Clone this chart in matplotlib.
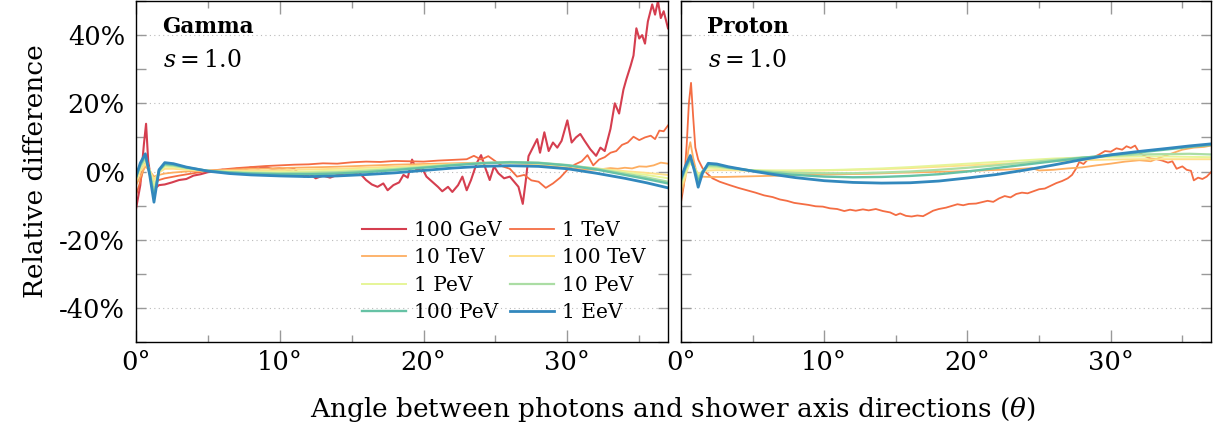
import matplotlib
matplotlib.use("Agg")
import matplotlib.pyplot as plt
from matplotlib.ticker import MultipleLocator, FuncFormatter

plt.rcParams['font.family'] = ['DejaVu Serif']
plt.rcParams['mathtext.fontset'] = 'dejavuserif'

labels = ["100 GeV", "1 TeV", "10 TeV", "100 TeV", "1 PeV", "10 PeV", "100 PeV", "1 EeV"]
colors = ["#d53e4f", "#f46d43", "#fdae61", "#fee08b", "#e6f598", "#abdda4", "#66c2a5", "#3288bd"]

# ---------------- Gamma panel ----------------
g_x_smooth = [0.0, 0.3, 0.65, 0.95, 1.25, 1.6, 2.0, 2.6, 3.5, 5.0, 6.5, 8, 10, 12, 14, 16, 18,
              20, 22, 24, 26, 28, 30, 32, 34, 35.5, 37]
g_1EeV = [-1.5, 2.5, 5.2, -1.0, -9.0, 0.5, 2.6, 2.3, 1.3, 0.1, -0.6, -1.0, -1.3, -1.5, -1.3, -0.9,
          -0.4, 0.3, 1.0, 1.5, 1.7, 1.5, 0.8, -0.5, -2.0, -3.3, -4.8]
g_100PeV = [-1.5, 2.0, 4.6, -0.5, -7.5, 0.3, 2.2, 2.0, 1.2, 0.2, -0.3, -0.6, -0.8, -0.8, -0.6, -0.2,
            0.4, 1.1, 1.8, 2.4, 2.7, 2.5, 1.8, 0.6, -1.0, -2.2, -3.5]
g_10PeV = [-2.0, 1.5, 4.0, 0.0, -6.0, 0.2, 1.9, 1.7, 1.0, 0.2, -0.2, -0.4, -0.5, -0.4, -0.2, 0.2,
           0.7, 1.3, 2.0, 2.5, 2.8, 2.6, 1.9, 0.8, -0.6, -1.7, -3.0]
g_1PeV = [-2.5, 0.8, 3.2, 0.3, -4.0, 0.0, 1.4, 1.3, 0.8, 0.2, 0.0, -0.1, -0.1, 0.0, 0.3, 0.6,
          1.0, 1.5, 2.0, 2.4, 2.6, 2.4, 1.8, 0.9, -0.2, -1.0, -2.0]
g_100TeV = [-3.0, 0.0, 2.2, 0.5, -2.5, -0.3, 0.8, 0.8, 0.5, 0.2, 0.2, 0.3, 0.4, 0.6, 0.8, 1.1,
            1.4, 1.8, 2.1, 2.4, 2.5, 2.2, 1.6, 0.9, 0.1, -0.4, -1.0]

g_x_10TeV = [0.0, 0.3, 0.65, 0.95, 1.25, 1.6, 2.0, 2.6, 3.5, 5.0, 6.5, 8, 10, 12, 14, 16, 18,
             20, 22, 24, 26, 28, 29, 30, 31, 32, 33, 33.5, 34, 34.5, 35, 35.5, 36, 36.5, 37]
g_10TeV = [-4.0, -1.5, 1.5, 0.2, -1.5, -1.0, -0.6, -0.3, 0.0, 0.3, 0.5, 0.8, 1.0, 1.2, 1.4, 1.7,
           2.0, 2.2, 2.4, 2.6, 2.5, 2.0, 1.5, 1.0, 0.6, 0.5, 1.0, 0.8, 1.1, 0.9, 1.5, 1.4, 1.8, 2.6, 2.3]

g_x_1TeV = [0, 0.3, 0.65, 0.95, 1.25, 1.6, 2, 3, 4, 5, 6, 7, 8, 9, 10, 11, 12, 13, 14, 15, 16, 17,
            18, 19, 20, 21, 22, 23, 23.5, 24, 24.5, 25, 25.5, 26, 26.5, 27, 27.5, 28, 28.5, 29,
            29.5, 30, 30.5, 31, 31.4, 31.8, 32.2, 32.6, 33, 33.4, 33.8, 34.2, 34.6, 35, 35.4,
            35.8, 36.1, 36.4, 36.7, 37]
g_1TeV = [-7, -3, 3, 0, -3.5, -2.5, -2, -1.2, -0.5, 0.2, 0.6, 1.0, 1.3, 1.6, 1.8, 2.0, 2.1, 2.4,
          2.3, 2.7, 2.9, 2.8, 3.1, 3.0, 2.9, 3.2, 3.4, 3.6, 4.6, 3.5, 4.5, 3.0, 1.5, 0.8, -1.5,
          -1.0, -2.6, -3.0, -4.8, -3.5, -1.8, 0.5, 2.0, 3.0, 4.8, 1.8, 3.5, 4.2, 5.5, 6.0, 7.8,
          8.5, 10.2, 9.2, 10.0, 10.5, 9.5, 12.0, 11.8, 13.5]

g_x_100GeV = [0, 0.3, 0.55, 0.7, 0.85, 1.1, 1.3, 1.6, 2, 2.5, 3, 3.5, 4, 4.5, 5, 5.5, 6, 6.5, 7,
              7.5, 8, 8.5, 9, 9.5, 10, 10.5, 11, 11.3, 11.7, 12.1, 12.5, 13, 13.5, 14, 14.5, 15,
              15.5, 16, 16.4, 16.8, 17.2, 17.5, 17.9, 18.3, 18.6, 18.9, 19.2, 19.5, 19.9, 20.2,
              20.6, 21, 21.3, 21.7, 22, 22.4, 22.7, 23, 23.3, 23.7, 24.0, 24.3, 24.6, 24.9, 25.2,
              25.6, 26, 26.3, 26.6, 26.9, 27.1, 27.3, 27.6, 27.9, 28.1, 28.4, 28.7, 29.0, 29.3,
              29.6, 30.0, 30.3, 30.6, 30.9, 31.2, 31.6, 32.0, 32.3, 32.6, 33.0, 33.3, 33.6, 33.9,
              34.1, 34.4, 34.6, 34.8, 35.0, 35.2, 35.4, 35.6, 35.9, 36.1, 36.3, 36.5, 36.7, 37.0]
g_100GeV = [-11, -4, 8, 14, 3, -4, -5, -4, -3.8, -3.2, -2.5, -2.2, -1.2, -0.8, -0.2, 0, 0.5, 0.3,
            0.8, 0.6, 1.2, 0.9, 1.3, 0.7, 0.9, 0.4, 0.8, -0.5, -1.5, -0.8, -2.0, -1.2, -1.8, -1.0,
            -0.6, -0.9, -0.2, -2.5, -3.8, -4.5, -3.5, -5.5, -4.0, -3.2, -1.0, -1.8, 3.5, 0.5, 1.0,
            -1.5, -3.0, -4.5, -5.8, -4.5, -6.0, -4.0, -1.5, -5.5, -2.5, 2.5, 4.8, 1.0, -2.5, 1.5,
            -0.5, -2.0, -1.5, -3.0, -4.5, -9.5, -3.0, 4.5, 7.0, 9.5, 5.5, 11.5, 6.0, 8.5, 7.0, 9.0,
            15.0, 8.5, 10.0, 11.0, 9.0, 6.5, 4.6, 7.0, 6.0, 12.5, 20.0, 17.0, 24.0, 27.0, 31.0,
            34.0, 42.0, 39.0, 40.0, 37.5, 44.0, 49.0, 46.0, 50.0, 45.0, 47.0, 42.0]

# ---------------- Proton panel ----------------
p_x_smooth = [0.0, 0.3, 0.65, 0.95, 1.2, 1.5, 1.9, 2.5, 3.3, 5.0, 6.5, 8, 10, 12, 14, 16, 18,
              20, 22, 24, 26, 28, 30, 32, 34, 35.5, 37]
p_1EeV = [-2.0, 1.5, 4.7, 0.0, -4.6, -0.5, 2.4, 2.2, 1.4, 0.1, -0.9, -1.8, -2.7, -3.2, -3.4, -3.3,
          -2.8, -1.9, -0.9, 0.4, 1.9, 3.5, 4.9, 5.9, 6.8, 7.5, 8.1]
p_100PeV = [-2.5, 1.0, 4.0, 0.5, -3.0, 0.0, 2.1, 1.9, 1.2, 0.2, -0.5, -1.0, -1.5, -1.7, -1.6, -1.3,
            -0.8, 0.0, 1.0, 2.0, 3.0, 4.0, 4.8, 5.6, 6.5, 7.2, 7.8]
p_10PeV = [-3.0, 0.5, 3.2, 0.8, -2.0, 0.0, 1.6, 1.5, 1.0, 0.3, -0.1, -0.4, -0.5, -0.5, -0.3, 0.0,
           0.5, 1.1, 1.8, 2.6, 3.4, 4.1, 4.6, 5.0, 5.1, 5.2, 5.0]
p_1PeV = [-4.0, -0.5, 2.5, 1.0, -1.0, 0.0, 1.1, 1.0, 0.8, 0.4, 0.3, 0.3, 0.4, 0.6, 0.9, 1.3,
          1.8, 2.3, 2.8, 3.3, 3.8, 4.1, 4.3, 4.4, 4.4, 4.3, 4.2]
p_100TeV = [-5.0, -1.5, 3.5, 1.0, -0.5, -0.3, 0.3, 0.4, 0.4, 0.2, 0.2, 0.2, 0.3, 0.5, 0.7, 1.0,
            1.4, 1.8, 2.2, 2.6, 3.0, 3.3, 3.5, 3.6, 3.6, 3.6, 3.6]

p_x_10TeV = [0, 0.3, 0.5, 0.65, 0.85, 1.1, 1.4, 2, 3, 5, 7, 9, 11, 13, 15, 17, 19, 21, 23, 24.5,
             25, 26, 27, 28, 29, 30, 31, 32, 32.8, 33.5, 34.2, 35, 35.8, 36.5, 37]
p_10TeV = [-7, -2, 6, 8.6, 4, -0.5, -1.5, -1.6, -1.6, -1.4, -1.2, -1.0, -0.8, -0.7, -0.4, -0.2,
           0, 0.3, 0.6, 1.0, 0.3, 0.5, 0.9, 1.2, 1.8, 2.3, 2.9, 3.3, 3.0, 4.2, 5.2, 6.4, 7.0, 7.2, 7.6]

p_x_1TeV = [0, 0.2, 0.4, 0.55, 0.7, 0.85, 1.0, 1.2, 1.5, 1.8, 2.2, 2.7, 3.4, 4.0, 4.6, 5.2, 5.8,
            6.4, 6.9, 7.4, 7.9, 8.4, 8.9, 9.4, 9.9, 10.4, 10.9, 11.4, 11.8, 12.2, 12.7, 13.1,
            13.6, 14.1, 14.6, 15.0, 15.3, 15.7, 16.1, 16.5, 16.9, 17.3, 17.6, 18.0, 18.5, 18.9,
            19.3, 19.7, 20.1, 20.6, 21.0, 21.4, 21.8, 22.2, 22.6, 23.0, 23.4, 23.8, 24.2, 24.6,
            25.0, 25.4, 25.8, 26.2, 26.6, 27.0, 27.3, 27.6, 27.8, 28.1, 28.4, 28.8, 29.2, 29.6,
            30.0, 30.4, 30.8, 31.1, 31.4, 31.7, 32.0, 32.4, 32.8, 33.2, 33.6, 34.0, 34.3, 34.6,
            35.0, 35.3, 35.6, 35.8, 36.1, 36.4, 36.7, 37.0]
p_1TeV = [-9, -4, 8, 20, 26, 16, 7, 3.5, 1.0, -0.5, -2.0, -3.0, -4.0, -4.8, -5.5, -6.2, -7.0,
          -7.5, -8.2, -8.6, -9.2, -9.5, -9.8, -10.2, -10.3, -10.8, -11.0, -11.6, -11.2, -11.5,
          -11.1, -11.4, -11.0, -11.6, -12.0, -12.8, -12.3, -13.0, -13.2, -12.9, -13.1, -12.2,
          -11.5, -11.0, -10.6, -10.1, -9.6, -9.9, -9.5, -9.4, -9.0, -8.6, -8.9, -7.9, -7.2, -7.6,
          -6.6, -6.2, -6.4, -5.8, -5.2, -5.0, -4.2, -3.4, -2.8, -2.0, -1.0, 1.0, 2.8, 2.2, 3.5,
          4.2, 5.0, 6.0, 5.8, 6.8, 6.4, 7.4, 6.9, 7.6, 5.5, 4.5, 3.8, 3.6, 3.2, 2.6, 3.0, 0.8,
          1.5, 0.5, 0.2, -2.6, -1.8, -2.2, -1.5, -0.2]

gamma_series = [(g_x_100GeV, g_100GeV), (g_x_1TeV, g_1TeV), (g_x_10TeV, g_10TeV),
                (g_x_smooth, g_100TeV), (g_x_smooth, g_1PeV), (g_x_smooth, g_10PeV),
                (g_x_smooth, g_100PeV), (g_x_smooth, g_1EeV)]
proton_series = [None, (p_x_1TeV, p_1TeV), (p_x_10TeV, p_10TeV),
                 (p_x_smooth, p_100TeV), (p_x_smooth, p_1PeV), (p_x_smooth, p_10PeV),
                 (p_x_smooth, p_100PeV), (p_x_smooth, p_1EeV)]
widths = [1.5, 1.3, 1.3, 1.4, 1.4, 1.6, 1.7, 2.0]

fig = plt.figure(figsize=(12.24, 4.32), dpi=100)
axL = fig.add_axes([136 / 1224, 1 - 342 / 432, 532 / 1224, 341 / 432])
axR = fig.add_axes([681 / 1224, 1 - 342 / 432, 530 / 1224, 341 / 432])

for ax, series, name in [(axL, gamma_series, "Gamma"), (axR, proton_series, "Proton")]:
    for s, lab, c, w in zip(series, labels, colors, widths):
        if s is None:
            continue
        ax.plot(s[0], s[1], color=c, lw=w, label=lab, solid_joinstyle='round')
    ax.set_xlim(0, 37)
    ax.set_ylim(-50, 50)
    ax.xaxis.set_major_locator(MultipleLocator(10))
    ax.xaxis.set_minor_locator(MultipleLocator(5))
    ax.yaxis.set_major_locator(MultipleLocator(20))
    ax.yaxis.set_minor_locator(MultipleLocator(10))
    ax.xaxis.set_major_formatter(FuncFormatter(lambda v, p: f"{int(round(v))}°"))
    ax.yaxis.set_major_formatter(FuncFormatter(lambda v, p: f"{int(round(v))}%"))
    ax.tick_params(which='both', direction='in', top=True, right=True, color='#999999',
                   labelsize=18.5, width=1.0)
    ax.tick_params(axis='x', which='major', length=9, pad=6)
    ax.tick_params(axis='x', which='minor', length=5)
    ax.tick_params(axis='y', which='both', length=7, pad=8)
    ax.grid(axis='y', which='major', linestyle=(0, (1, 3)), color='#bbbbbb', lw=0.8)
    for sp in ax.spines.values():
        sp.set_linewidth(1.0)
    ax.text(0.05, 0.925, name, transform=ax.transAxes, fontsize=15.5, fontweight='bold',
            va='center', ha='left')
    ax.text(0.05, 0.825, r"$s = 1.0$", transform=ax.transAxes, fontsize=17,
            va='center', ha='left')

axR.tick_params(axis='y', labelleft=False)
axL.set_ylabel("Relative difference", fontsize=19, labelpad=8)

handles, labs = axL.get_legend_handles_labels()
order = [0, 2, 4, 6, 1, 3, 5, 7]
axL.legend([handles[i] for i in order], [labs[i] for i in order], ncol=2, loc='lower right',
           bbox_to_anchor=(0.957, 0.058), frameon=False, fontsize=14.5,
           handlelength=2.15, columnspacing=0.45, handletextpad=0.4, labelspacing=0.42,
           borderaxespad=0.0, borderpad=0.0)

fig.text(673 / 1224, 1 - 410 / 432, r"Angle between photons and shower axis directions ($\theta$)",
         ha='center', va='center', fontsize=19)

fig.savefig("out.png", dpi=100)
